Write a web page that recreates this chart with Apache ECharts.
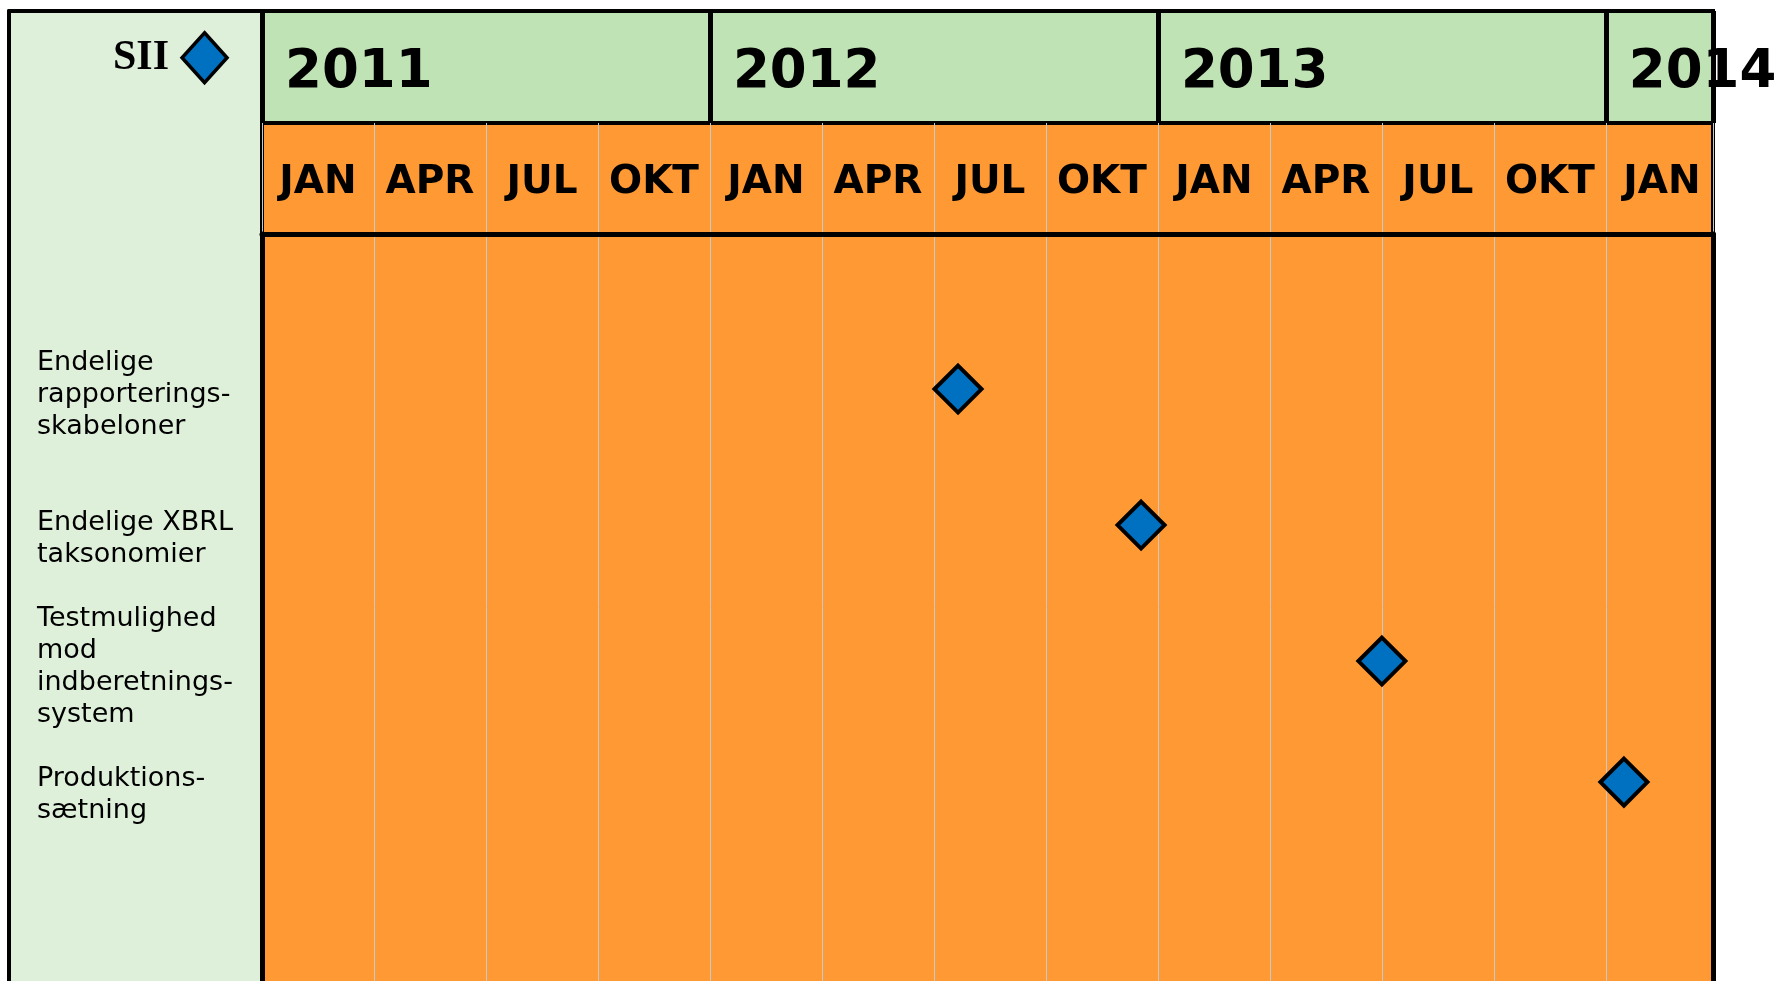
<!DOCTYPE html>
<html>
<head>
<meta charset="utf-8">
<script src="https://cdn.jsdelivr.net/npm/echarts@6/dist/echarts.min.js"></script>
<style>
html,body{margin:0;padding:0;background:#fff;}
#c{width:1779px;height:981px;}
</style>
</head>
<body>
<div id="c"></div>
<script>
// ---- data ----
var years = ['2011', '2012', '2013', '2014'];
var monthNames = ['JAN', 'APR', 'JUL', 'OKT', 'JAN', 'APR', 'JUL', 'OKT', 'JAN', 'APR', 'JUL', 'OKT', 'JAN'];
var milestoneLabels = [
  'Endelige\nrapporterings-\nskabeloner',
  'Endelige XBRL\ntaksonomier',
  'Testmulighed\nmod\nindberetnings-\nsystem',
  'Produktions-\nsætning'
];
var milestoneDates = ['2012-07-21', '2012-12-18', '2013-07-01', '2014-01-16'];
var milestoneRows = [1, 2, 3, 3.89];
var labelRows = [1.02, 2.08, 3.02, 3.96];
var seriesName = 'SII';

// months since Jan 2011
function toMonths(s) {
  var p = s.split('-').map(Number);
  var dim = new Date(p[0], p[1], 0).getDate();
  return (p[0] - 2011) * 12 + (p[1] - 1) + (p[2] - 1) / dim;
}

var X_MAX = 38.87;
var Y_MIN = -0.14, Y_MAX = 5.3526;
var ORANGE = '#FF9933';
var BLACK = '#000000';
function edgeLine(w) { return { show: true, onZero: false, lineStyle: { color: BLACK, width: w } }; }
function edgeAxis(o, w) {
  return Object.assign({ type: 'value', show: true, axisLine: edgeLine(w),
    axisTick: { show: false }, axisLabel: { show: false }, splitLine: { show: false } }, o);
}

var chart = echarts.init(document.getElementById('c'));
chart.setOption({
  animation: false,
  backgroundColor: '#ffffff',
  legend: {
    data: [seriesName],
    left: 113,
    top: 31,
    padding: 0,
    align: 'right',
    icon: 'diamond',
    itemWidth: 45,
    itemHeight: 50,
    itemStyle: { borderColor: '#000', borderWidth: 3.5, color: '#0070C0' },
    textStyle: { fontFamily: 'Liberation Serif', fontWeight: 'bold', fontSize: 42, color: '#000', padding: [0, 8, 0, 0] }
  },
  grid: [
    // 0 left panel
    { left: 9, top: 11, width: 253, height: 970, show: true, backgroundColor: '#DFF0DA', borderWidth: 0 },
    // 1 year header
    { left: 262, right: 66, top: 11, height: 112, show: true, backgroundColor: '#BFE3B4', borderColor: BLACK, borderWidth: 4 },
    // 2 month header
    { left: 262, right: 66, top: 123, height: 111, show: true, backgroundColor: ORANGE, borderColor: BLACK, borderWidth: 4 },
    // 3 body
    { left: 262, right: 66, top: 234, height: 747, show: true, backgroundColor: ORANGE, borderWidth: 0 },
    // 4 label area (same vertical scale as body)
    { left: 9, top: 234, width: 253, height: 747, show: false }
  ],
  xAxis: [
    edgeAxis({ gridIndex: 0, min: 0, max: 1, position: 'top' }, 4),
    { gridIndex: 1, type: 'value', min: 0, max: X_MAX, interval: 12,
      axisLine: { show: false }, axisTick: { show: false }, axisLabel: { show: false },
      splitLine: { show: true, lineStyle: { color: BLACK, width: 5 } } },
    { gridIndex: 2, type: 'value', min: 0, max: X_MAX, interval: 3,
      axisLine: { show: false }, axisTick: { show: false }, axisLabel: { show: false },
      splitLine: { show: true, lineStyle: { color: '#C8C8C8', width: 1 } } },
    { gridIndex: 3, type: 'value', min: 0, max: X_MAX, interval: 3, position: 'top',
      axisLine: edgeLine(5), axisTick: { show: false }, axisLabel: { show: false },
      splitLine: { show: true, lineStyle: { color: '#C8C8C8', width: 1 } } },
    { gridIndex: 4, type: 'value', min: 0, max: 1, show: false }
  ],
  yAxis: [
    edgeAxis({ gridIndex: 0, min: 0, max: 1, position: 'left' }, 4),
    { gridIndex: 1, type: 'value', min: 0, max: 1, show: false },
    { gridIndex: 2, type: 'value', min: 0, max: 1, show: false },
    edgeAxis({ gridIndex: 3, min: Y_MIN, max: Y_MAX, inverse: true, position: 'left' }, 5),
    { gridIndex: 4, type: 'value', min: Y_MIN, max: Y_MAX, inverse: true, show: false },
    edgeAxis({ gridIndex: 3, min: Y_MIN, max: Y_MAX, inverse: true, position: 'right' }, 5)
  ],
  series: [
    {
      name: 'years', type: 'scatter', xAxisIndex: 1, yAxisIndex: 1,
      symbolSize: 0, silent: true, clip: false, itemStyle: { opacity: 1 },
      data: years.map(function (y, i) { return { value: [i * 12, 0.5], name: y }; }),
      label: { show: true, position: 'right', distance: 23, formatter: '{b}',
        fontFamily: 'DejaVu Sans', fontWeight: 'bold', fontSize: 53, color: '#000', offset: [0, 6] }
    },
    {
      name: 'months', type: 'scatter', xAxisIndex: 2, yAxisIndex: 2,
      symbolSize: 0, silent: true, clip: false, itemStyle: { opacity: 1 },
      data: monthNames.map(function (m, i) { return { value: [i * 3 + 1.5, 0.5], name: m }; }),
      label: { show: true, position: 'inside', formatter: '{b}', offset: [0, 4],
        fontFamily: 'DejaVu Sans', fontWeight: 'bold', fontSize: 39, color: '#000' }
    },
    {
      name: 'labels', type: 'scatter', xAxisIndex: 4, yAxisIndex: 4,
      symbolSize: 0, silent: true, clip: false, itemStyle: { opacity: 1 },
      data: milestoneLabels.map(function (t, i) { return { value: [0, labelRows[i]], name: t }; }),
      label: { show: true, position: 'right', distance: 28, formatter: '{b}', align: 'left', offset: [0, 3],
        fontFamily: 'DejaVu Sans', fontSize: 27, lineHeight: 32, color: '#000' }
    },
    {
      name: seriesName, type: 'scatter', xAxisIndex: 3, yAxisIndex: 3,
      symbol: 'diamond', symbolSize: 47,
      itemStyle: { color: '#0070C0', borderColor: '#000', borderWidth: 4, opacity: 1 },
      data: milestoneDates.map(function (d, i) { return [toMonths(d), milestoneRows[i]]; })
    }
  ]
});
</script>
</body>
</html>
